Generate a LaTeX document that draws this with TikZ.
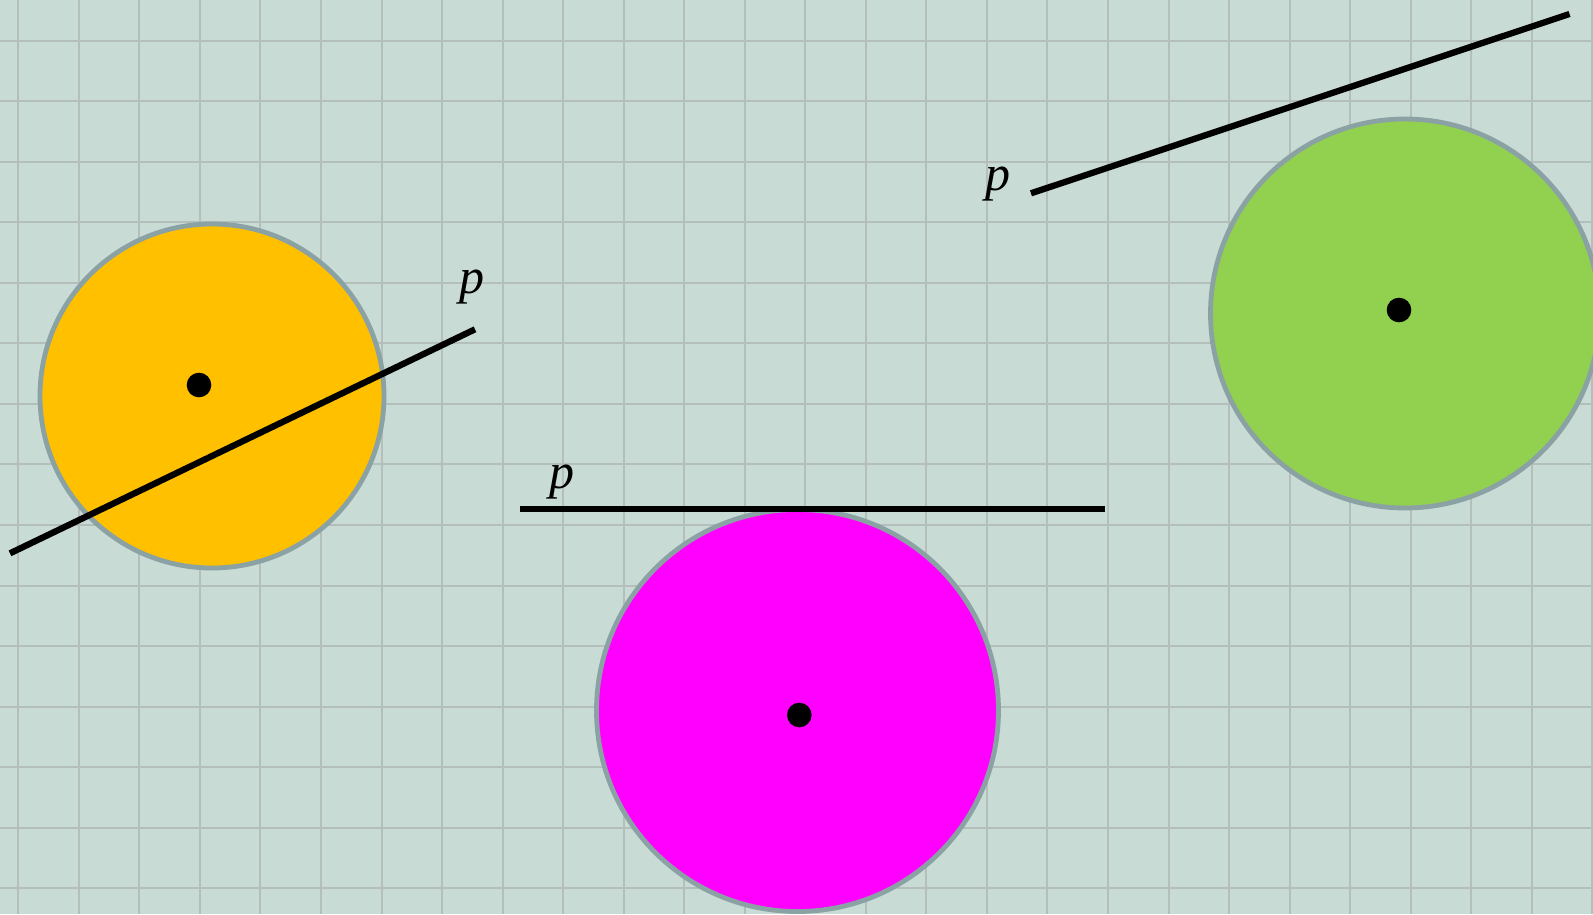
\documentclass[tikz,border=0pt]{standalone}
\usepackage{fontspec}
\setmainfont{Liberation Serif}
\definecolor{bgcol}{RGB}{201,219,213}
\definecolor{gridcol}{RGB}{180,190,186}
\definecolor{rimcol}{RGB}{138,162,164}
\definecolor{yellowfill}{RGB}{255,192,0}
\definecolor{magentafill}{RGB}{255,0,255}
\definecolor{greenfill}{RGB}{146,208,80}
\begin{document}
\begin{tikzpicture}[x=1pt,y=-1pt,
  gridline/.style={draw=gridcol,line width=2pt},
  disc/.style={circle,draw=rimcol,line width=4.8pt,inner sep=0pt,outer sep=0pt},
  centre/.style={circle,fill=black,inner sep=0pt,minimum size=24.6pt},
  lineP/.style={draw=black,line width=6.3pt},
  plabel/.style={inner sep=0pt,anchor=base,font=\fontsize{50}{60}\selectfont\itshape}]
\useasboundingbox (0,0) rectangle (1593,914);
\begin{scope}
\clip (0,0) rectangle (1593,914);
\fill[bgcol] (0,0) rectangle (1593,914);
\foreach \i in {0,...,26} \draw[gridline] ({18.3+60.54*\i},0) -- ({18.3+60.54*\i},914);
\foreach \j in {0,...,14} \draw[gridline] (0,{40.7+60.54*\j}) -- (1593,{40.7+60.54*\j});
% yellow
\node[disc,fill=yellowfill,minimum size=344pt] (cy) at (212,396) {};
\node[centre] (dy) at (199,385) {};
\coordinate (ya) at (10,553.3);
\coordinate (yb) at (475,329.3);
\draw[lineP] (ya) -- (yb);
\node[plabel] (py) at (471.5,293) {p};
% magenta
\node[disc,fill=magentafill,minimum size=402pt] (cm) at (797.5,710.5) {};
\node[centre] (dm) at (799.3,715) {};
\coordinate (ma) at (520,509);
\coordinate (mb) at (1105,509);
\draw[lineP] (ma) -- (mb);
\node[plabel] (pm) at (561.7,488) {p};
% green
\node[disc,fill=greenfill,minimum size=389pt] (cg) at (1405,313.5) {};
\node[centre] (dg) at (1399,310) {};
\coordinate (ga) at (1031,193.3);
\coordinate (gb) at (1569.5,14);
\draw[lineP] (ga) -- (gb);
\node[plabel] (pg) at (998,190) {p};
\end{scope}
\end{tikzpicture}
\end{document}
